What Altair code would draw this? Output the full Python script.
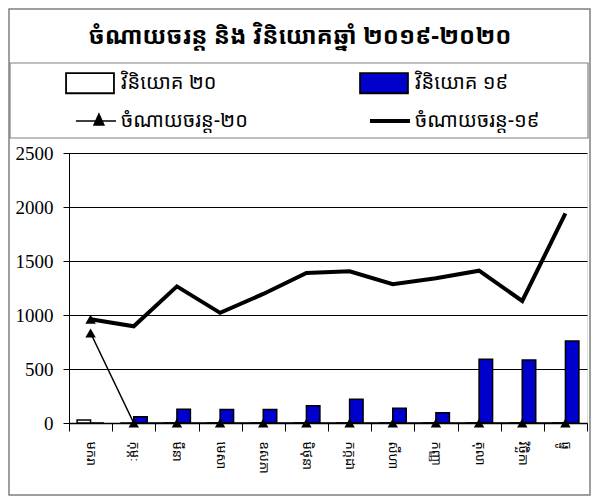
import altair as alt
import pandas as pd

months = ["មករា", "កុម្ភៈ", "មីនា", "មេសា", "ឧសភា", "មិថុនា",
          "កក្កដា", "សីហា", "កញ្ញា", "តុលា", "វិច្ឆិកា", "ធ្នូ"]
inv20 = [28, 0, 0, 0, 0, 0, 0, 0, 0, 0, 0, 0]
inv19 = [0, 58, 127, 125, 125, 160, 219, 136, 96, 590, 583, 759]
cur20 = [833, 0, 0, 0, 0, 0, 0, 0, 0, 0, 0, 0]
cur19 = [960, 895, 1265, 1020, 1195, 1390, 1405, 1285, 1340, 1410, 1130, 1940]
cur19_marked = ["មករា"]

S_INV20 = "វិនិយោគ ២០"
S_INV19 = "វិនិយោគ ១៩"
S_CUR20 = "ចំណាយចរន្ត-២០"
S_CUR19 = "ចំណាយចរន្ត-១៩"
series = [S_INV20, S_INV19, S_CUR20, S_CUR19]
colors = ["white", "#0000CC", "black", "black"]
title_text = ["ចំណាយចរន្ត និង វិនិយោគឆ្នាំ ២០១៩-២០២០"]

KFONT = "Khmer OS, Noto Sans Khmer, Khmer OS System, DejaVu Sans, sans-serif"

bars = pd.DataFrame(
    [{"month": m, "series": S_INV20, "value": v} for m, v in zip(months, inv20)]
    + [{"month": m, "series": S_INV19, "value": v} for m, v in zip(months, inv19)]
)
l20 = pd.DataFrame({"month": months, "value": cur20, "series": S_CUR20})
l19 = pd.DataFrame({"month": months, "value": cur19, "series": S_CUR19})
m19 = l19[l19["month"].isin(cur19_marked)]

color_scale = alt.Scale(domain=series, range=colors)

shape_expr = (
    f"datum.value === '{S_INV20}' || datum.value === '{S_INV19}' ? 'M-1.26,-0.53H1.26V0.53H-1.26Z' : "
    f"datum.value === '{S_CUR20}' ? 'M-0.74,0H1.37M0.47,-0.37L0.73,0.21L0.21,0.21Z' : 'M-0.74,0H1.37'"
)
sw_expr = f"datum.value === '{S_CUR19}' ? 4 : (datum.value === '{S_CUR20}' ? 1.5 : 1.8)"

legend = alt.Legend(
    title=None, orient="none", legendX=11, legendY=-80, columns=2, direction="horizontal",
    columnPadding=108, rowPadding=13, padding=0,
    symbolType={"expr": shape_expr}, symbolSize=1444,
    symbolStrokeColor="black",
    symbolStrokeWidth={"expr": sw_expr}, symbolOpacity=1,
    labelFont=KFONT, labelFontSize=20, labelColor="black", labelOffset=21,
    labelLimit=300,
)

x_enc = alt.X("month:N", sort=months, title=None,
              scale=alt.Scale(paddingInner=0, paddingOuter=0),
              axis=alt.Axis(labelAngle=90, labelAlign="left", labelBaseline="middle",
                            labelFont=KFONT, labelFontSize=13, labelColor="black",
                            labelPadding=10, tickBand="extent", tickSize=8,
                            tickColor="black", domainColor="black", domainWidth=1.5,
                            grid=False))
y_scale = alt.Scale(domain=[0, 2500], nice=False)
y_axis = alt.Axis(values=[0, 500, 1000, 1500, 2000, 2500], title=None, format="d",
                  labelFont="Liberation Serif", labelFontSize=19, labelColor="black",
                  labelPadding=10, tickSize=6, tickColor="black",
                  domainColor="black", gridColor="black", gridWidth=1)

bar_layer = alt.Chart(bars).mark_bar(stroke="black", strokeWidth=1.5).encode(
    x=x_enc,
    xOffset=alt.XOffset("series:N", sort=[S_INV20, S_INV19],
                        scale=alt.Scale(paddingOuter=0.6, paddingInner=0)),
    y=alt.Y("value:Q", scale=y_scale, axis=y_axis),
    color=alt.Color("series:N", scale=color_scale, legend=legend),
)

line19 = alt.Chart(l19).mark_line(color="black", strokeWidth=4, strokeJoin="miter").encode(
    x=alt.X("month:N", sort=months),
    y=alt.Y("value:Q", scale=y_scale),
)
line20 = alt.Chart(l20).mark_line(color="black", strokeWidth=1.5).encode(
    x=alt.X("month:N", sort=months),
    y=alt.Y("value:Q", scale=y_scale),
)
pts20 = alt.Chart(l20).mark_point(shape="triangle-up", filled=True, color="black",
                                   size=110, opacity=1).encode(
    x=alt.X("month:N", sort=months),
    y=alt.Y("value:Q", scale=y_scale),
)
pts19 = alt.Chart(m19).mark_point(shape="triangle-up", filled=True, color="black",
                                   size=110, opacity=1).encode(
    x=alt.X("month:N", sort=months),
    y=alt.Y("value:Q", scale=y_scale),
)

frame = pd.DataFrame({"k": [0]})
legend_box = alt.Chart(frame).mark_rect(fill="transparent", stroke="#808080",
                                         strokeWidth=1.2).encode(
    x=alt.value(-59), x2=alt.value(519), y=alt.value(-90), y2=alt.value(-15))
outer_box = alt.Chart(frame).mark_rect(fill="transparent", stroke="#808080",
                                        strokeWidth=1.5).encode(
    x=alt.value(-60), x2=alt.value(521), y=alt.value(-144), y2=alt.value(342))
title_layer = alt.Chart(pd.DataFrame({"t": title_text})).mark_text(
    font=KFONT, fontSize=24, fontWeight="bold", color="black",
    align="center", baseline="middle").encode(
    text="t:N", x=alt.value(231), y=alt.value(-116))

chart = alt.layer(outer_box, legend_box, title_layer, bar_layer, line19, line20,
                  pts20, pts19).properties(
    width=518, height=270,
    autosize=alt.AutoSizeParams(type="none"),
    padding={"left": 61, "top": 145, "right": 4, "bottom": 73},
).configure_view(stroke="#808080", strokeWidth=1.5).configure(background="white")

chart.save("out.html", embed_options={"renderer": "svg", "actions": False})
